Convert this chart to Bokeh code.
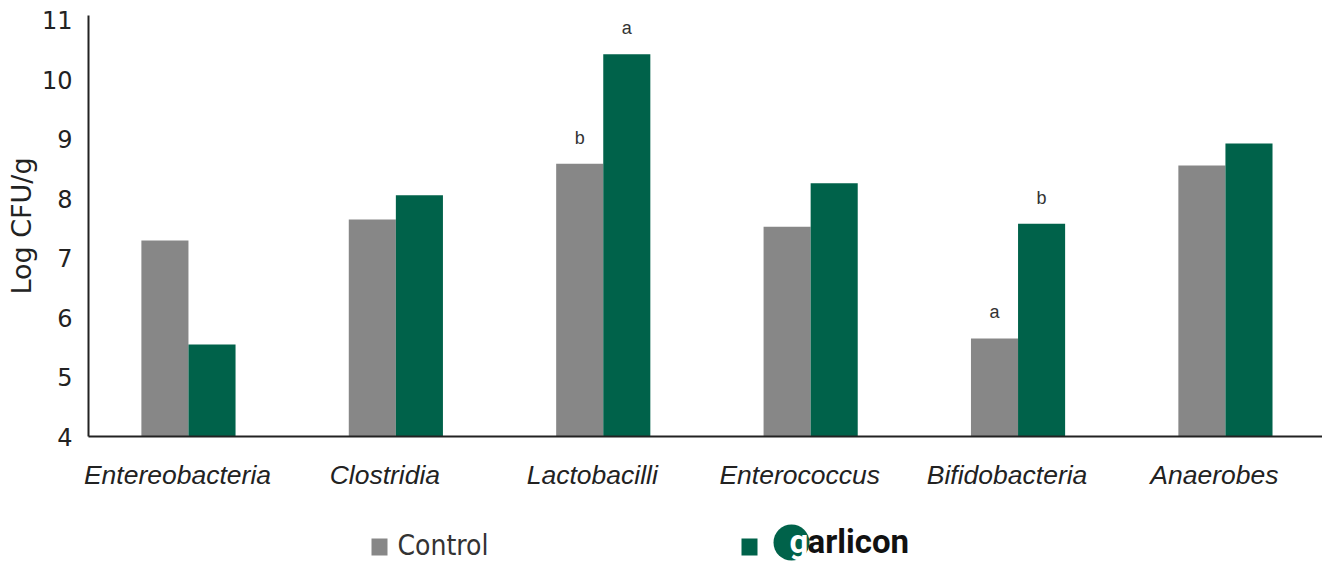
from bokeh.plotting import figure
from bokeh.layouts import column
from bokeh.models import Range1d, FixedTicker, ColumnDataSource
from bokeh.core.properties import value
from bokeh.embed import file_html
from bokeh.resources import INLINE

categories = ["Entereobacteria", "Clostridia", "Lactobacilli", "Enterococcus", "Bifidobacteria", "Anaerobes"]
control = [7.30, 7.65, 8.59, 7.53, 5.65, 8.56]
garlicon = [5.55, 8.06, 10.43, 8.26, 7.58, 8.93]
control_letters = ["", "", "b", "", "a", ""]
garlicon_letters = ["", "", "a", "", "b", ""]
y_ticks = [4, 5, 6, 7, 8, 9, 10, 11]
series_names = ["Control", "garlicon"]

GRAY = "#878787"
GREEN = "#00624a"
TXT = "#222222"

idx = list(range(len(categories)))
bw = 0.227
src = ColumnDataSource(dict(
    xc=[i - bw / 2 for i in idx], xg=[i + bw / 2 for i in idx],
    control=control, garlicon=garlicon,
    lc=control_letters, lg=garlicon_letters,
))

W = 1322
LEFT = 88
p = figure(width=W, height=510, output_backend="svg", toolbar_location=None,
           x_range=Range1d(-0.482, 5.468), y_range=Range1d(4, 11.084),
           min_border_left=LEFT, min_border_right=0, min_border_top=15, min_border_bottom=74)
p.outline_line_color = None
p.grid.visible = False

p.vbar(x="xc", top="control", bottom=4, width=bw, source=src, color=GRAY, line_color=None)
p.vbar(x="xg", top="garlicon", bottom=4, width=bw, source=src, color=GREEN, line_color=None)

for xcol, ycol, tcol in (("xc", "control", "lc"), ("xg", "garlicon", "lg")):
    p.text(x=xcol, y=ycol, text=tcol, source=src, text_align="center", text_baseline="bottom",
           y_offset=-16, text_font=value("Liberation Sans"), text_font_size="18px", text_color="#333333")

# x axis (labels sit slightly left of the bar pairs, as in the original)
label_shift = -0.053
label_pos = [round(i + label_shift, 3) for i in idx]
p.xaxis.ticker = FixedTicker(ticks=label_pos)
p.xaxis.major_label_overrides = {pos: c for pos, c in zip(label_pos, categories)}
p.xaxis.major_label_text_font = "Liberation Sans"
p.xaxis.major_label_text_font_style = "italic"
p.xaxis.major_label_text_font_size = "26.5px"
p.xaxis.major_label_text_color = TXT
p.xaxis.major_label_standoff = 23
p.xaxis.major_tick_line_color = None
p.xaxis.major_tick_out = 0
p.xaxis.minor_tick_line_color = None
p.xaxis.axis_line_color = TXT
p.xaxis.axis_line_width = 2

# y axis
p.yaxis.ticker = FixedTicker(ticks=y_ticks)
p.yaxis.major_label_text_font = "DejaVu Sans"
p.yaxis.major_label_text_font_size = "24px"
p.yaxis.major_label_text_color = TXT
p.yaxis.major_label_standoff = 16
p.yaxis.major_tick_line_color = None
p.yaxis.major_tick_out = 0
p.yaxis.minor_tick_line_color = None
p.yaxis.axis_line_color = TXT
p.yaxis.axis_line_width = 2
p.yaxis.axis_label = "Log CFU/g"
p.yaxis.axis_label_text_font = "DejaVu Sans"
p.yaxis.axis_label_text_font_style = "normal"
p.yaxis.axis_label_text_font_size = "27px"
p.yaxis.axis_label_text_color = TXT
p.yaxis.axis_label_standoff = 2

# legend strip below (frames are aligned in the column; 1 data unit = 1 px, y from strip bottom)
LH = 51
lg = figure(width=W, height=LH, output_backend="svg", toolbar_location=None,
            x_range=Range1d(LEFT, W), y_range=Range1d(0, LH),
            x_axis_type=None, y_axis_type=None, min_border=0, min_border_left=LEFT)
lg.outline_line_color = None
lg.grid.visible = False
lg.rect(x=[379, 749], y=[14.5, 14.5], width=16, height=17, color=[GRAY, GREEN], line_color=None)
lg.text(x=[397], y=[16], text=[series_names[0]], text_baseline="middle",
        text_font=value("DejaVu Sans Condensed"), text_font_size="28px", text_color="#333333")
lg.circle(x=[791], y=[19], radius=18, color=GREEN, line_color=None)
lg.text(x=[789], y=[20], text=[series_names[1][0]], text_baseline="middle",
        text_font=value("Roboto"), text_font_style="bold", text_font_size="33px", text_color="#ffffff")
lg.text(x=[807], y=[20], text=[series_names[1][1:]], text_baseline="middle",
        text_font=value("Roboto"), text_font_style="bold", text_font_size="33px", text_color="#111111")

layout = column(p, lg, spacing=0)
open("out.html", "w").write(file_html(layout, INLINE))
